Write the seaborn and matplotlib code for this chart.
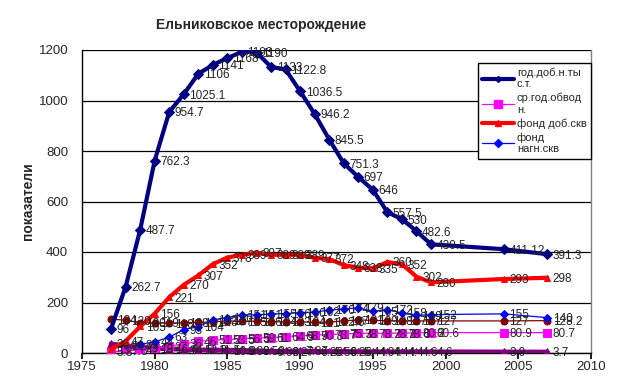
import numpy as np
import pandas as pd
import matplotlib
matplotlib.use("Agg")
import matplotlib.pyplot as plt
import seaborn as sns
from matplotlib.lines import Line2D

# years of the measurements
years = list(range(1977, 2000)) + [2004, 2007]

# годовая добыча нефти, тыс.т
oil_prod = [96, 262.7, 487.7, 762.3, 954.7, 1025.1, 1106, 1141, 1168, 1193, 1190,
            1133, 1122.8, 1036.5, 946.2, 845.5, 751.3, 697, 646, 557.5, 530, 482.6, 430.5,
            411.12, 391.3]
# средняя годовая обводненность
water_cut = [5.8, 7.6, 12, 18, 27, 36, 46, 51.2, 53.5, 56.5, 59.1, 61, 64.9, 68.9,
             70.3, 73.7, 75.3, 78, 78.2, 78.2, 78.6, 80.2, 80.6, 80.9, 80.7]
# фонд добывающих скважин
prod_wells = [15, 47, 105, 156, 221, 270, 307, 352, 378, 389, 397, 389, 389, 389,
              377, 372, 348, 338, 335, 360, 352, 302, 280, 293, 298]
# фонд нагнетательных скважин
inj_wells = [np.nan, np.nan, 35, 44, 63, 93, 104, 132, 140, 151, 151, 155, 156, 160,
             162, 170, 174, 179, 165, 172, 158, 149, 152, 155, 140]
# прочие ряды (без подписи в легенде)
series5 = [134, 130, 120, 119, 118, 120, 121, 123, 127, 125, 126, 124, 123, 124,
           121, 122.6, 127, 131, 129, 128, 127, 127, 127, 127, 128.2]
series6 = [36, 28, 23, 19, 16.4, 14.5, 12.2, 11.5, 10.9, 9.99, 8.58, 6.68, 6.27, 7.87,
           6.26, 5.56, 6.26, 5.44, 4.94, 4.44, 4.4, 4.6, 4.6, 3.9, 3.7]

legend_names = ["год.доб.н.ты\nс.т.", "ср.год.обвод\nн.", "фонд доб.скв", "фонд\nнагн.скв"]

sns.set_theme(style="white")
plt.rcParams['font.family'] = ['Liberation Sans', 'DejaVu Sans']

fig = plt.figure(figsize=(6.24, 3.85), dpi=100)
ax = fig.add_axes([82 / 624, 1 - 353 / 385, (591 - 82) / 624, (353 - 50) / 385])

styles = [
    # values, color, lw, marker, markersize
    (series6, "#800080", 3.5, "^", 6),
    (series5, "#800000", 0.9, "o", 5),
    (water_cut, "#FF00FF", 0.9, "s", 6),
    (inj_wells, "#0000FF", 0.9, "D", 4),
    (prod_wells, "#FF0000", 3.0, "^", 4),
    (oil_prod, "#000080", 3.0, "D", 5),
]

for vals, color, lw, marker, ms in styles:
    df = pd.DataFrame({"year": years, "value": vals}).dropna()
    sns.lineplot(data=df, x="year", y="value", ax=ax, color=color, lw=lw,
                 marker=marker, markersize=ms, markeredgecolor=color, zorder=3)
    for x, y in zip(df["year"], df["value"]):
        txt = f"{y:g}"
        ax.annotate(txt, (x, y), xytext=(4, -1), textcoords="offset points",
                    ha="left", va="center", fontsize=8.5, color="#222222", zorder=4)

ax.set_xlim(1975, 2010)
ax.set_ylim(0, 1200)
ax.set_xticks(range(1975, 2011, 5))
ax.set_yticks(range(0, 1201, 200))
ax.tick_params(axis="both", labelsize=9.5, length=4, direction="out", pad=2,
               bottom=True, left=True, color="black")
ax.tick_params(axis="y", length=0, pad=10)
ax.yaxis.grid(True, color="black", lw=0.9)
ax.set_axisbelow(True)
ax.set_xlabel("")
ax.set_ylabel("показатели", fontsize=10, fontweight="bold")
ax.yaxis.set_label_coords((35 - 82) / 509, 0.5)

for side in ["left", "bottom"]:
    ax.spines[side].set_color("black")
    ax.spines[side].set_linewidth(1)
ax.spines["top"].set_visible(False)
ax.spines["right"].set_color("#808080")
ax.spines["right"].set_linewidth(1)

fig.text(261 / 624, 1 - 25 / 385, "Ельниковское месторождение", ha="center", va="center",
         fontsize=10, fontweight="bold")

handles = [
    Line2D([], [], color="#000080", lw=3, marker="D", markersize=3),
    Line2D([], [], color="#FF00FF", lw=0.9, marker="s", markersize=6),
    Line2D([], [], color="#FF0000", lw=3, marker="^", markersize=4),
    Line2D([], [], color="#0000FF", lw=0.9, marker="D", markersize=4),
]
leg = ax.legend(handles, legend_names, loc="upper left",
                bbox_to_anchor=((478 - 82) / 509, 1 - (63 - 50) / 303),
                borderaxespad=0, fontsize=8, frameon=True, fancybox=False,
                edgecolor="black", framealpha=1, borderpad=0.4, labelspacing=0.3,
                handlelength=2.8, handletextpad=0.3)
leg.get_frame().set_linewidth(1)
leg.set_zorder(5)

fig.savefig("out.png", dpi=100)
